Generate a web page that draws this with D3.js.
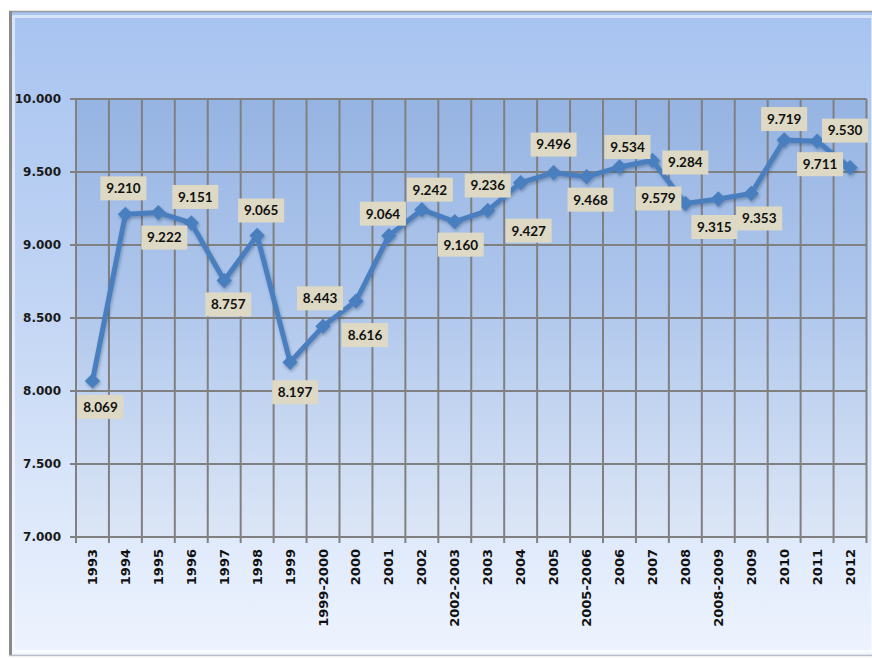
<!DOCTYPE html>
<html>
<head>
<meta charset="utf-8">
<script src="https://cdn.jsdelivr.net/npm/d3@7"></script>
<style>
  html, body { margin: 0; padding: 0; background: #ffffff; }
  svg { display: block; }
</style>
</head>
<body>
<svg id="chart" width="872" height="658"></svg>
<script>
// ---- data ----
const categories = ["1993","1994","1995","1996","1997","1998","1999","1999-2000","2000","2001",
  "2002","2002-2003","2003","2004","2005","2005-2006","2006","2007","2008","2008-2009",
  "2009","2010","2011","2012"];
const values = [8.069, 9.210, 9.222, 9.151, 8.757, 9.065, 8.197, 8.443, 8.616, 9.064,
  9.242, 9.160, 9.236, 9.427, 9.496, 9.468, 9.534, 9.579, 9.284, 9.315,
  9.353, 9.719, 9.711, 9.530];
const yTicks = [7, 7.5, 8, 8.5, 9, 9.5, 10];

// ---- layout (label placement offsets from each point, px) ----
const labelDx = [8, -2, 6, 4, 4, 4, 5, -3, 9, -6, 8, 6, 0, 8, 0, 4, 8, 6, 0, -4, 8, 0, 3, -5];
const labelDy = [26, -26, 25, -26, 24, -25, 30, -28, 34, -22, -20, 23, -25, 48, -28, 23, -20, 38, -41, 28, 25, -21, 23, -37];

const svg = d3.select("#chart");
const W = 872, H = 658;
const plot = { left: 76, right: 866.5, top: 99, bottom: 537 };

const defs = svg.append("defs");
const gOuter = defs.append("linearGradient").attr("id", "outerGrad").attr("x1", 0).attr("y1", 0).attr("x2", 0).attr("y2", 1);
gOuter.append("stop").attr("offset", "0%").attr("stop-color", "#a7c3f0");
gOuter.append("stop").attr("offset", "45%").attr("stop-color", "#c2d5f4");
gOuter.append("stop").attr("offset", "100%").attr("stop-color", "#eef4fe");
const gPlot = defs.append("linearGradient").attr("id", "plotGrad").attr("x1", 0).attr("y1", 0).attr("x2", 0).attr("y2", 1);
gPlot.append("stop").attr("offset", "0%").attr("stop-color", "#96b4e2");
gPlot.append("stop").attr("offset", "45%").attr("stop-color", "#aec6ec");
gPlot.append("stop").attr("offset", "100%").attr("stop-color", "#dce6f6");
const shadow = defs.append("filter").attr("id", "shadow").attr("x", "-10%").attr("y", "-10%").attr("width", "120%").attr("height", "130%");
shadow.append("feDropShadow").attr("dx", 1).attr("dy", 2).attr("stdDeviation", 1.5).attr("flood-color", "#1f3350").attr("flood-opacity", 0.35);

// outer frame
svg.append("rect").attr("x", 9).attr("y", 11).attr("width", W - 9 + 5).attr("height", 645)
  .attr("fill", "url(#outerGrad)");
// bevel highlight
svg.append("rect").attr("x", 13.5).attr("y", 16.5).attr("width", W - 13).attr("height", 635)
  .attr("fill", "none").attr("stroke", "#ffffff").attr("stroke-opacity", 0.55).attr("stroke-width", 3);
svg.append("line").attr("x1", 9).attr("x2", W).attr("y1", 11.5).attr("y2", 11.5).attr("stroke", "#9a9a9a").attr("stroke-width", 1.5);
svg.append("line").attr("x1", 10.5).attr("x2", 10.5).attr("y1", 11).attr("y2", 656).attr("stroke", "#8a8a8a").attr("stroke-width", 3);
svg.append("line").attr("x1", 9).attr("x2", W).attr("y1", 655.5).attr("y2", 655.5).attr("stroke", "#b8bcc4").attr("stroke-width", 1.5);

// scales
const x = d3.scaleBand().domain(categories).range([plot.left, plot.right]).paddingInner(0).paddingOuter(0);
const y = d3.scaleLinear().domain([7, 10]).range([plot.bottom, plot.top]);
const cx = d => x(d) + x.bandwidth() / 2;

// plot area
svg.append("rect").attr("x", plot.left).attr("y", plot.top)
  .attr("width", plot.right - plot.left).attr("height", plot.bottom - plot.top)
  .attr("fill", "url(#plotGrad)");

const gridColor = "#808080";
// horizontal grid + left ticks
svg.append("g").selectAll("line").data(yTicks).join("line")
  .attr("x1", plot.left - 6).attr("x2", plot.right)
  .attr("y1", d => y(d)).attr("y2", d => y(d))
  .attr("stroke", gridColor).attr("stroke-width", 2);
// vertical grid (band boundaries) + bottom ticks
const bounds = categories.map(c => x(c)).concat([plot.right]);
svg.append("g").selectAll("line").data(bounds).join("line")
  .attr("x1", d => d).attr("x2", d => d)
  .attr("y1", plot.top).attr("y2", plot.bottom + 6)
  .attr("stroke", gridColor).attr("stroke-width", 2);

// y axis labels
svg.append("g").selectAll("text").data(yTicks).join("text")
  .attr("x", 61).attr("y", d => y(d)).attr("dy", "0.35em")
  .attr("text-anchor", "end")
  .attr("font-family", "'DejaVu Sans', Verdana, sans-serif").attr("font-weight", "bold")
  .attr("font-size", 12).attr("fill", "#1a1a1a")
  .text(d => d3.format(".3f")(d));

// x axis labels
svg.append("g").selectAll("text").data(categories).join("text")
  .attr("transform", d => `translate(${cx(d) + 4.5},${549}) rotate(-90)`)
  .attr("text-anchor", "end")
  .attr("font-family", "'DejaVu Sans', Verdana, sans-serif").attr("font-weight", "bold")
  .attr("font-size", 13).attr("fill", "#111")
  .text(d => d);

// line + markers
const pts = categories.map((c, i) => ({ c, v: values[i], i }));
const series = svg.append("g").attr("filter", "url(#shadow)");
series.append("path").datum(pts)
  .attr("d", d3.line().x(d => cx(d.c)).y(d => y(d.v)))
  .attr("fill", "none").attr("stroke", "#4a7ebf").attr("stroke-width", 5)
  .attr("stroke-linejoin", "round");
series.selectAll("path.m").data(pts).join("path").attr("class", "m")
  .attr("transform", d => `translate(${cx(d.c)},${y(d.v)})`)
  .attr("d", d3.symbol().type(d3.symbolDiamond2).size(150))
  .attr("fill", "#4a7ebf");

// data labels
const lbl = svg.append("g").selectAll("g").data(pts).join("g")
  .attr("transform", d => `translate(${cx(d.c) + labelDx[d.i]},${y(d.v) + labelDy[d.i]})`);
lbl.append("rect").attr("x", -23).attr("y", -12).attr("width", 46).attr("height", 24)
  .attr("fill", "#ddd9c4");
lbl.append("text").attr("text-anchor", "middle").attr("dy", "0.36em")
  .attr("font-family", "Lato, 'Open Sans', sans-serif").attr("font-weight", "bold")
  .attr("font-size", 13.5).attr("fill", "#111")
  .text(d => d3.format(".3f")(d.v));
</script>
</body>
</html>
